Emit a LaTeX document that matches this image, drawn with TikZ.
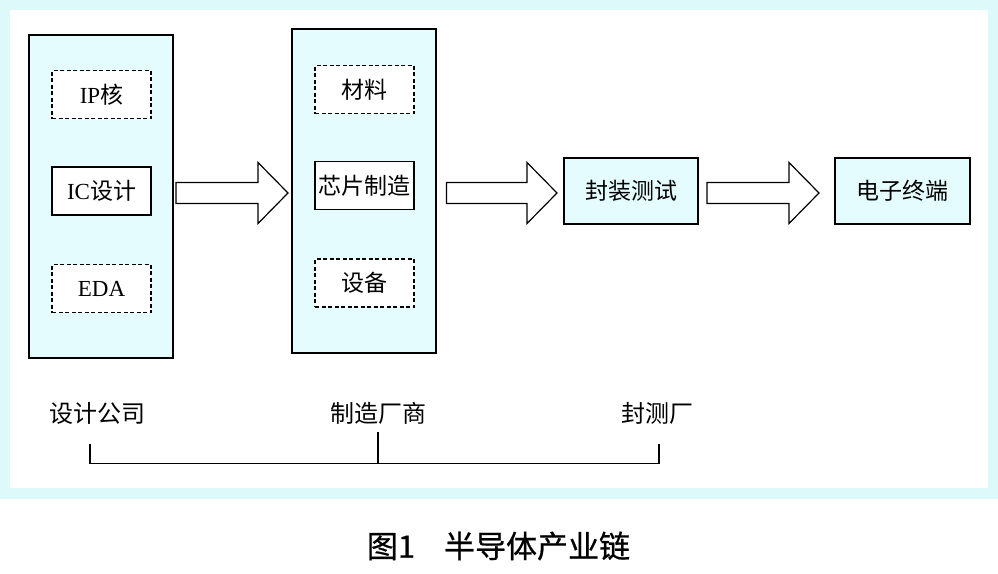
\documentclass[tikz,border=0pt]{standalone}
\usepackage{fontspec}
\setmainfont{Liberation Serif}
\newfontfamily\cjk{Noto Sans CJK SC}
\newfontfamily\capfont[FakeBold=0.7]{Noto Sans CJK SC}
\usetikzlibrary{calc}
\definecolor{boxcyan}{RGB}{228,252,253}
\definecolor{framecyan}{RGB}{222,249,250}
\tikzset{
  bigbox/.style={draw=black, line width=1.3pt, fill=boxcyan, minimum width=144pt, inner sep=0pt},
  itembox/.style={draw=black, line width=1.2pt, fill=white, minimum width=99pt, minimum height=48pt, inner sep=0pt,
    font=\fontsize{23}{26}\selectfont},
  dashitem/.style={itembox, dash pattern=on 4pt off 2.5pt},
  stagebox/.style={draw=black, line width=1.3pt, fill=boxcyan, minimum height=66pt, inner sep=0pt,
    font=\fontsize{23}{26}\selectfont\cjk},
  blockarrow/.style={draw=black, line width=1.2pt, fill=white, line join=miter},
  lbl/.style={inner sep=0pt, font=\fontsize{24}{28}\selectfont\cjk},
  bracketline/.style={draw=black, line width=1.1pt},
}
\newcommand\bigarrow[2]{%
  \draw[blockarrow] ($(#1)+(0,-10.5)$) -- ($(#2)+(-30,-10.5)$) -- ($(#2)+(-30,-30.5)$) -- (#2)
    -- ($(#2)+(-30,30.5)$) -- ($(#2)+(-30,10.5)$) -- ($(#1)+(0,10.5)$) -- cycle;}
\begin{document}
\begin{tikzpicture}[x=1pt,y=-1pt]
\useasboundingbox (0,0) rectangle (998,573);
% outer frame
\fill[framecyan] (0,0) rectangle (998,499);
\fill[white] (10,10) rectangle (988,488);
% design company
\node[bigbox, minimum height=323pt] (b1) at (101,196.5) {};
\node[dashitem] (ip) at (101.5,94.5) {IP{\cjk 核}};
\node[itembox] (ic) at (101.5,191) {IC{\cjk 设计}};
\node[dashitem] (eda) at (101.5,288.5) {EDA};
% manufacturer
\node[bigbox, minimum height=324pt] (b2) at (364,191) {};
\node[dashitem] (cl) at (364.5,89.5) {\cjk 材料};
\node[itembox] (xp) at (364.5,185.5) {\cjk 芯片制造};
\node[dashitem] (sb) at (364.5,283) {\cjk 设备};
% stages
\node[stagebox, minimum width=134pt] (fz) at (631,191) {封装测试};
\node[stagebox, minimum width=135pt] (dz) at (902.5,191) {电子终端};
% block arrows
\coordinate (a1s) at (176,193); \coordinate (a1e) at (288,193);
\coordinate (a2s) at (446.5,193); \coordinate (a2e) at (557,193);
\coordinate (a3s) at (707,193); \coordinate (a3e) at (819,193);
\bigarrow{a1s}{a1e}
\bigarrow{a2s}{a2e}
\bigarrow{a3s}{a3e}
% labels
\node[lbl] (l1) at (97,413) {设计公司};
\node[lbl] (l2) at (378,413) {制造厂商};
\node[lbl] (l3) at (657,413) {封测厂};
% bracket
\coordinate (t1) at (90,444); \coordinate (t2) at (378,432); \coordinate (t3) at (659,444);
\coordinate (h1) at (90,463.5); \coordinate (h2) at (378,463.5); \coordinate (h3) at (659,463.5);
\draw[bracketline] (t1) -- (h1);
\draw[bracketline] (t2) -- (h2);
\draw[bracketline] (t3) -- (h3);
\draw[draw=black, line width=1.8pt] (h1) -- (h3);
% caption
\node[inner sep=0pt, font=\fontsize{31}{34}\selectfont\capfont] (cap) at (498.5,546) {图1\hspace{29pt}半导体产业链};
\end{tikzpicture}
\end{document}
